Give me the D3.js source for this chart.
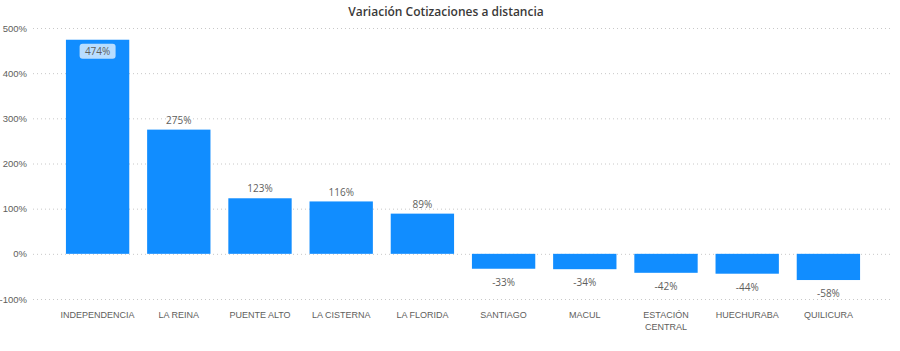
<!DOCTYPE html>
<html>
<head>
<meta charset="utf-8">
<script src="https://cdn.jsdelivr.net/npm/d3@7"></script>
<style>
  body { margin: 0; background: #fff; }
  svg { font-family: "Segoe UI", "Open Sans", "DejaVu Sans", sans-serif; }
</style>
</head>
<body>
<div id="chart"></div>
<script>
const comunas = ["INDEPENDENCIA", "LA REINA", "PUENTE ALTO", "LA CISTERNA", "LA FLORIDA",
  "SANTIAGO", "MACUL", "ESTACIÓN CENTRAL", "HUECHURABA", "QUILICURA"];
const variacion = [474, 275, 123, 116, 89, -33, -34, -42, -44, -58];
const yTicks = [-100, 0, 100, 200, 300, 400, 500];

const width = 900, height = 351;
const svg = d3.select("#chart").append("svg")
  .attr("width", width).attr("height", height);

const x = d3.scaleBand()
  .domain(comunas)
  .range([57, 869])
  .paddingInner(0.22)
  .paddingOuter(0.11);

const y = d3.scaleLinear()
  .domain([-100, 500])
  .range([299, 28]);

svg.append("text")
  .attr("x", 446).attr("y", 16)
  .attr("text-anchor", "middle")
  .attr("font-size", 12)
  .attr("font-weight", 600)
  .attr("fill", "#3a3938")
  .text("Variación Cotizaciones a distancia");

// grid + y axis
const yAxis = d3.axisLeft(y)
  .tickValues(yTicks)
  .tickFormat(d => d + "%")
  .tickSize(-(890 - 33));
const gy = svg.append("g")
  .attr("transform", "translate(33,0)")
  .call(yAxis);
gy.select(".domain").remove();
gy.selectAll(".tick line")
  .attr("stroke", "#c8c8c8")
  .attr("stroke-dasharray", "1,3");
gy.selectAll(".tick text")
  .attr("x", -6)
  .attr("font-size", 9.5)
  .attr("fill", "#605E5C");

// bars
svg.selectAll("rect.bar")
  .data(variacion)
  .enter().append("rect")
  .attr("class", "bar")
  .attr("x", (d, i) => x(comunas[i]))
  .attr("width", x.bandwidth())
  .attr("y", d => y(Math.max(0, d)))
  .attr("height", d => Math.abs(y(d) - y(0)))
  .attr("fill", "#118DFF");

// data labels
const labels = svg.selectAll("g.lbl")
  .data(variacion)
  .enter().append("g")
  .attr("class", "lbl")
  .attr("transform", (d, i) => {
    const cx = x(comunas[i]) + x.bandwidth() / 2;
    let ly;
    if (d >= 400) ly = y(d) + 13;
    else if (d >= 0) ly = y(d) - 8;
    else ly = y(d) + 15;
    return `translate(${cx},${ly})`;
  });

labels.filter(d => d >= 400).append("rect")
  .attr("x", -18).attr("y", -9)
  .attr("width", 36).attr("height", 15)
  .attr("rx", 3)
  .attr("fill", "#ffffff").attr("fill-opacity", 0.7);

labels.append("text")
  .attr("text-anchor", "middle")
  .attr("dy", "0.32em")
  .attr("font-size", 10)
  .attr("fill", "#605E5C")
  .attr("y", -1)
  .text(d => d + "%");

// x axis labels
const gx = svg.append("g")
  .attr("transform", `translate(0,${y(-100)})`)
  .call(d3.axisBottom(x).tickSize(0).tickPadding(13));
gx.select(".domain").remove();
gx.selectAll(".tick text")
  .attr("font-size", 9)
  .attr("fill", "#605E5C")
  .each(function(d) {
    const t = d3.select(this);
    if (d === "ESTACIÓN CENTRAL") {
      t.text(null);
      t.append("tspan").attr("x", 0).text("ESTACIÓN");
      t.append("tspan").attr("x", 0).attr("dy", "1.3em").text("CENTRAL");
    }
  });
</script>
</body>
</html>
